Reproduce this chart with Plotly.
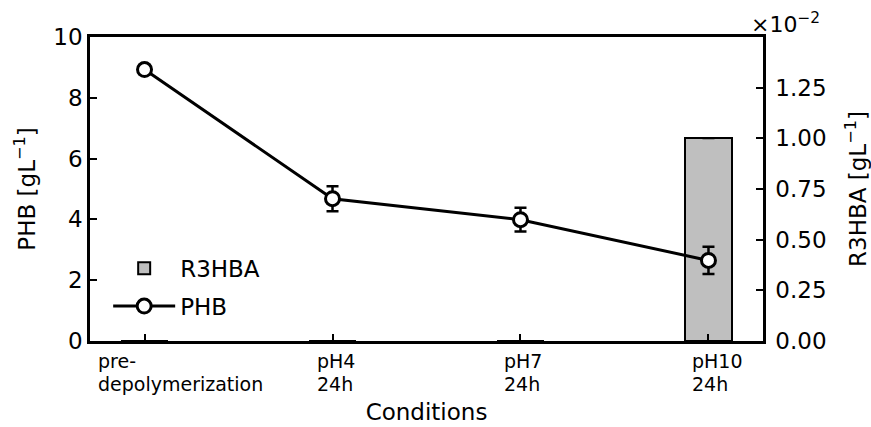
import plotly.graph_objects as go

# ---- data ----
conditions = [0, 1, 2, 3]
tick_labels = ["pre-\ndepolymerization", "pH4\n24h", "pH7\n24h", "pH10\n24h"]
phb = [8.93, 4.68, 3.99, 2.65]
phb_err = [0.15, 0.41, 0.39, 0.45]
r3hba = [0.0, 0.0, 0.0, 1.00]      # in units of 1e-2 g/L
r3hba_err = [None, None, None, 0.0]
label_shift = [-48, -17, -17, -17]

FONT = "DejaVu Sans"
fig = go.Figure()

fig.add_trace(go.Bar(
    x=conditions, y=r3hba, width=0.25, name="R3HBA",
    marker=dict(color="#bfbfbf", line=dict(color="black", width=2)),
    error_y=dict(type="data", array=r3hba_err, color="black", thickness=2, width=6),
    yaxis="y", legendgroup="a",
))
fig.add_trace(go.Scatter(
    x=conditions, y=phb, name="PHB", mode="lines+markers",
    line=dict(color="black", width=3),
    marker=dict(symbol="circle", size=14, color="white", line=dict(color="black", width=3)),
    error_y=dict(type="data", array=phb_err, color="black", thickness=2.5, width=6),
    yaxis="y2", legendgroup="b",
))

axis_common = dict(showgrid=False, zeroline=False, showline=True, linecolor="black",
                   linewidth=2.5, ticks="inside", tickcolor="black", tickwidth=2, ticklen=7,
                   automargin=False,
                   tickfont=dict(family=FONT, size=23, color="black"))

fig.update_layout(
    width=871, height=427,
    margin=dict(l=90, r=108, t=37, b=86, autoexpand=False),
    plot_bgcolor="white", paper_bgcolor="white",
    font=dict(family=FONT, color="black"),
    bargap=0,
    xaxis=dict(range=[-0.29, 3.29], tickvals=conditions, ticktext=["", "", "", ""],
               mirror=True, **axis_common,
               title=dict(text="Conditions", font=dict(family=FONT, size=23), standoff=57)),
    yaxis=dict(range=[0, 1.5], side="right", tickvals=[0, 0.25, 0.5, 0.75, 1.0, 1.25],
               tickformat=".2f", ticklabelstandoff=5, **axis_common,
               title=dict(text="R3HBA [gL<sup>−1</sup>]", font=dict(family=FONT, size=23), standoff=26)),
    yaxis2=dict(range=[0, 10], side="left", overlaying="y", tickvals=[0, 2, 4, 6, 8, 10],
                **axis_common,
                title=dict(text="PHB [gL<sup>−1</sup>]", font=dict(family=FONT, size=23), standoff=12)),
    showlegend=True,
    legend=dict(x=0.027, y=0.31, xanchor="left", yanchor="top", bgcolor="rgba(0,0,0,0)",
                font=dict(family=FONT, size=23), traceorder="grouped", tracegroupgap=5,
                itemwidth=62),
)

# category tick labels (multi-line, left aligned)
for xi, lab, sh in zip(conditions, tick_labels, label_shift):
    for k, line in enumerate(lab.split("\n")):
        fig.add_annotation(x=xi, xref="x", y=0, yref="paper", text=line, showarrow=False,
                           xanchor="left", yanchor="top", xshift=sh, yshift=-8 - 22.5 * k,
                           borderpad=0,
                           font=dict(family=FONT, size=19, color="black"))

# scale factor text of right axis
fig.add_annotation(x=1, xref="paper", y=1, yref="paper", text="×10<sup>−2</sup>",
                   showarrow=False, xanchor="left", yanchor="bottom", xshift=-14, yshift=-2,
                   font=dict(family=FONT, size=22, color="black"))

fig.write_html("out.html", config={"displayModeBar": False},
               post_script="document.body.style.margin='0px';")
